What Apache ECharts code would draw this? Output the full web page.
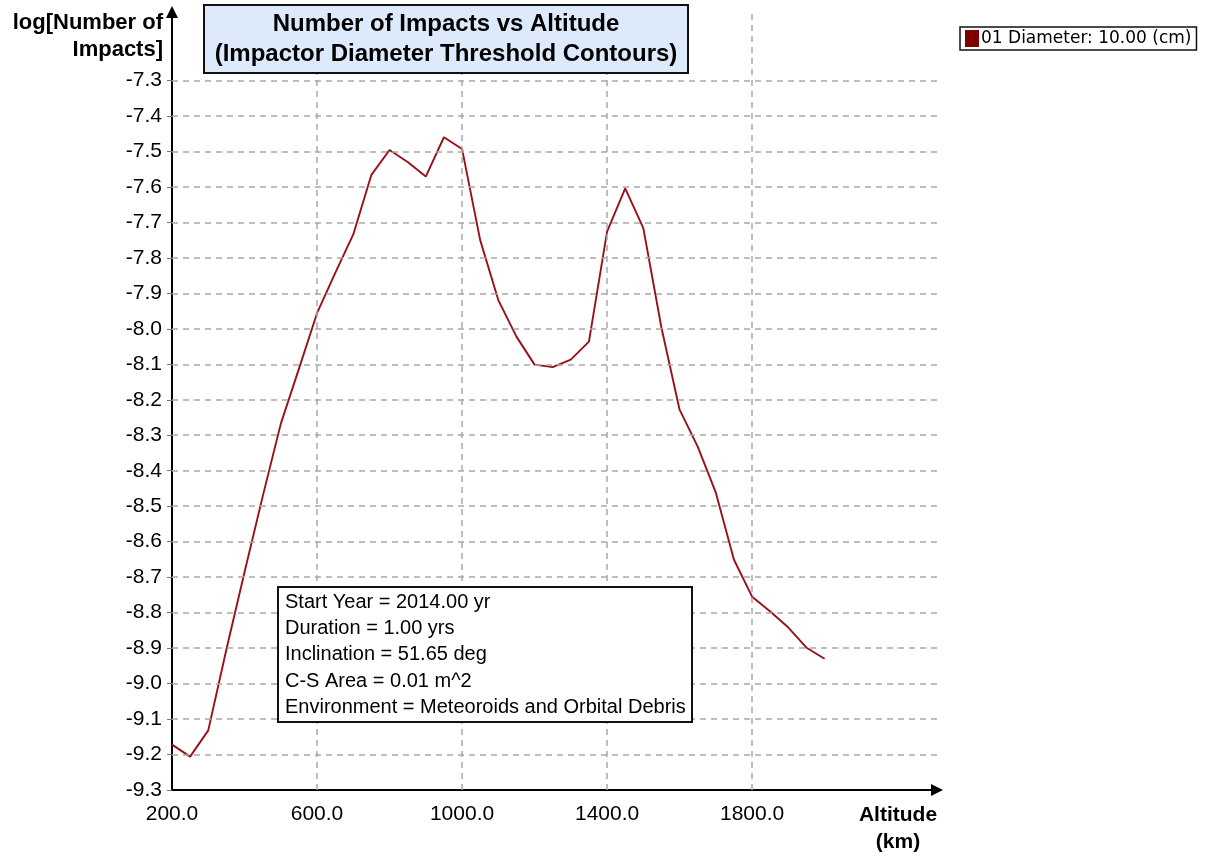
<!DOCTYPE html>
<html>
<head>
<meta charset="utf-8">
<script src="https://cdn.jsdelivr.net/npm/echarts@6/dist/echarts.min.js"></script>
<style>html,body{margin:0;padding:0;background:#fff}#c{width:1205px;height:856px}</style>
</head>
<body>
<div id="c"></div>
<script>
const altitudes = [200,250,300,350,400,450,500,550,600,650,700,750,800,850,900,950,1000,1050,1100,1150,1200,1250,1300,1350,1400,1450,1500,1550,1600,1650,1700,1750,1800,1850,1900,1950,2000];
const logImpacts = [-9.172,-9.206,-9.132,-8.904,-8.686,-8.473,-8.268,-8.113,-7.956,-7.843,-7.734,-7.566,-7.496,-7.530,-7.571,-7.460,-7.493,-7.750,-7.919,-8.022,-8.101,-8.108,-8.087,-8.036,-7.726,-7.604,-7.716,-7.997,-8.228,-8.332,-8.462,-8.651,-8.755,-8.797,-8.842,-8.899,-8.930];
const xTicks = [200,600,1000,1400,1800];
const xGrid = [600,1000,1400,1800];
const yTicks = [-9.3,-9.2,-9.1,-9.0,-8.9,-8.8,-8.7,-8.6,-8.5,-8.4,-8.3,-8.2,-8.1,-8.0,-7.9,-7.8,-7.7,-7.6,-7.5,-7.4,-7.3];
const seriesName = '01 Diameter: 10.00 (cm)';
const titleText = 'Number of Impacts vs Altitude\n(Impactor Diameter Threshold Contours)';
const infoLines = ['Start Year = 2014.00 yr','Duration = 1.00 yrs','Inclination = 51.65 deg','C-S Area = 0.01 m^2','Environment = Meteoroids and Orbital Debris'];

const FONT = '"Liberation Sans", Arial, sans-serif';
const gridLine = {color:'#a8a8a8', width:1.5, type:[6,5]};

const chart = echarts.init(document.getElementById('c'), null, {renderer:'canvas'});
chart.setOption({
  animation:false,
  backgroundColor:'#fff',
  title:[{
    text:titleText,
    left:435, top:5,
    textAlign:'center',
    backgroundColor:'#dceafb',
    borderColor:'#111', borderWidth:2,
    padding:[4,11],
    textStyle:{fontFamily:FONT, fontSize:24, fontWeight:'bold', color:'#000', lineHeight:30}
  },{
    text:infoLines.join('\n'),
    left:278, top:587,
    backgroundColor:'#fff',
    borderColor:'#111', borderWidth:2,
    padding:[2,7],
    textStyle:{fontFamily:FONT, fontSize:20, fontWeight:'normal', color:'#000', lineHeight:26.3}
  }],
  legend:{
    data:[seriesName],
    left:960, top:27,
    orient:'vertical',
    padding:[3,5,3,5],
    borderColor:'#111', borderWidth:1.5,
    backgroundColor:'#fff',
    icon:'rect', itemWidth:14, itemHeight:17, itemGap:2,
    textStyle:{fontFamily:'"DejaVu Sans", sans-serif', fontSize:17, color:'#000', padding:[0,0,0,-3]}
  },
  grid:{left:172, right:268, top:12, bottom:65.5, containLabel:false},
  xAxis:{
    type:'value', min:200, max:2310,
    name:'Altitude\n(km)', nameLocation:'end', nameGap:-39,
    nameTextStyle:{fontFamily:FONT, fontSize:21, fontWeight:'bold', color:'#000', align:'center', verticalAlign:'top', lineHeight:27, padding:[12,0,0,0]},
    axisLine:{show:true, lineStyle:{color:'#000', width:2}, symbol:['none','triangle'], symbolSize:[12,12]},
    axisTick:{show:false},
    splitLine:{show:false},
    axisLabel:{customValues:xTicks, formatter:v=>v.toFixed(1), fontFamily:FONT, fontSize:21, color:'#000', margin:14}
  },
  yAxis:{
    type:'value', min:-9.3, max:-7.107, interval:0.1,
    name:'log[Number of\nImpacts]', nameLocation:'end', nameGap:3,
    nameTextStyle:{fontFamily:FONT, fontSize:22, fontWeight:'bold', color:'#000', align:'right', verticalAlign:'top', lineHeight:27, padding:[0,9,0,0]},
    axisLine:{show:true, lineStyle:{color:'#000', width:2}, symbol:['none','triangle'], symbolSize:[12,12]},
    axisTick:{show:true, customValues:yTicks, length:5, lineStyle:{color:'#777'}},
    splitLine:{show:false},
    axisLabel:{customValues:yTicks, formatter:v=>(v>-7.25?'':v.toFixed(1)), fontFamily:FONT, fontSize:21, color:'#000', margin:10}
  },
  series:[{
    name:'grid', type:'line', data:[], z:1, silent:true,
    markLine:{
      silent:true, symbol:['none','none'], label:{show:false}, lineStyle:gridLine, animation:false,
      data:xGrid.map(v=>({xAxis:v})).concat(yTicks.slice(1).map(v=>({yAxis:v})))
    }
  },{
    name:seriesName, type:'line', z:3,
    data:altitudes.map((a,i)=>[a, logImpacts[i]]),
    showSymbol:false, symbol:'none',
    itemStyle:{color:'#800000'},
    lineStyle:{color:'#9a1018', width:1.9}
  }]
});
</script>
</body>
</html>
